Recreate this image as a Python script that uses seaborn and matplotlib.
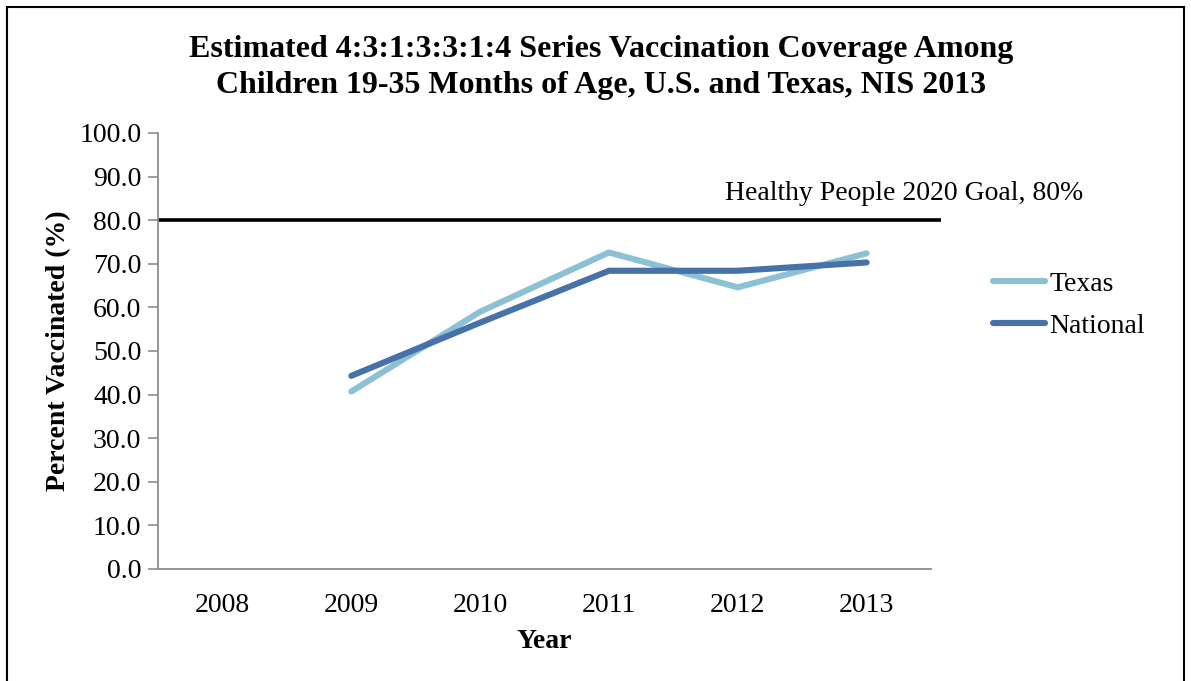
import matplotlib
matplotlib.use("Agg")
import matplotlib.pyplot as plt
import seaborn as sns
import pandas as pd
from matplotlib.patches import Rectangle

# data
years = [2008, 2009, 2010, 2011, 2012, 2013]
texas = [None, 40.7, 59.0, 72.6, 64.6, 72.4]
national = [None, 44.3, 56.5, 68.4, 68.4, 70.3]
goal = 80
series_names = ["Texas", "National"]
colors = {"Texas": "#8CC0D5", "National": "#4771A9"}

df = pd.DataFrame({
    "Year": years * 2,
    "Percent": texas + national,
    "Series": ["Texas"] * len(years) + ["National"] * len(years),
}).dropna()

sns.set_style("white")
plt.rcParams["font.family"] = ["Liberation Serif", "DejaVu Serif"]
plt.rcParams["text.color"] = "black"
plt.rcParams["axes.labelcolor"] = "black"
plt.rcParams["xtick.labelcolor"] = "black"
plt.rcParams["ytick.labelcolor"] = "black"

fig = plt.figure(figsize=(11.91, 6.81), dpi=100)
ax = fig.add_axes([0.1327, 0.1645, 0.649, 0.6402])

sns.lineplot(data=df, x="Year", y="Percent", hue="Series", hue_order=series_names,
             palette=colors, linewidth=4.4, ax=ax, legend=True)
for ln in ax.lines:
    ln.set_solid_capstyle("round")

# 2020 goal line, running slightly past the plot edge like the original
ax.plot([years[0] - 0.5, years[-1] + 0.58], [goal, goal], color="black",
        linewidth=2.6, clip_on=False, solid_capstyle="butt")
ax.text(years[0] + 3.9, goal + 6.2, "Healthy People 2020 Goal, 80%",
        ha="left", va="center", fontsize=20, clip_on=False)

ax.set_xlim(years[0] - 0.5, years[-1] + 0.5)
ax.set_ylim(0, 100)
ax.set_yticks(range(0, 101, 10))
ax.set_yticklabels([f"{v:.1f}" for v in range(0, 101, 10)], fontsize=20)
ax.set_xticks(years)
ax.set_xticklabels([str(y) for y in years], fontsize=20)
ax.set_xticks([y - 0.5 for y in years] + [years[-1] + 0.5], minor=True)
ax.tick_params(axis="x", which="major", length=0, pad=17)
ax.tick_params(axis="x", which="minor", length=7, width=1.2, color="#8c8c8c", direction="out")
ax.tick_params(axis="y", length=7, width=1.2, color="#8c8c8c", direction="out", left=True, pad=5)

for s in ["top", "right"]:
    ax.spines[s].set_visible(False)
for s in ["left", "bottom"]:
    ax.spines[s].set_color("#8c8c8c")
    ax.spines[s].set_linewidth(1.3)

ax.set_xlabel("Year", fontsize=20, fontweight="bold", labelpad=8)
ax.set_ylabel("Percent Vaccinated (%)", fontsize=20, fontweight="bold", labelpad=6)

handles, labels = ax.get_legend_handles_labels()
for h in handles:
    h.set_solid_capstyle("round")
ax.legend(handles, labels, loc="center left", bbox_to_anchor=(1.066, 0.605),
          borderaxespad=0, frameon=False, fontsize=20, handlelength=1.85,
          handletextpad=0.18, labelspacing=0.58)

fig.text(0.505, 0.9005, "Estimated 4:3:1:3:3:1:4 Series Vaccination Coverage Among\n"
         "Children 19-35 Months of Age, U.S. and Texas, NIS 2013",
         ha="center", va="center", fontsize=23, fontweight="bold", linespacing=1.32)

# outer frame of the original chart box
fig.patches.append(Rectangle((0.006, -0.02), 0.988, 1.01, transform=fig.transFigure,
                             fill=False, edgecolor="black", linewidth=1.5, clip_on=False))

fig.savefig("out.png", dpi=100)
